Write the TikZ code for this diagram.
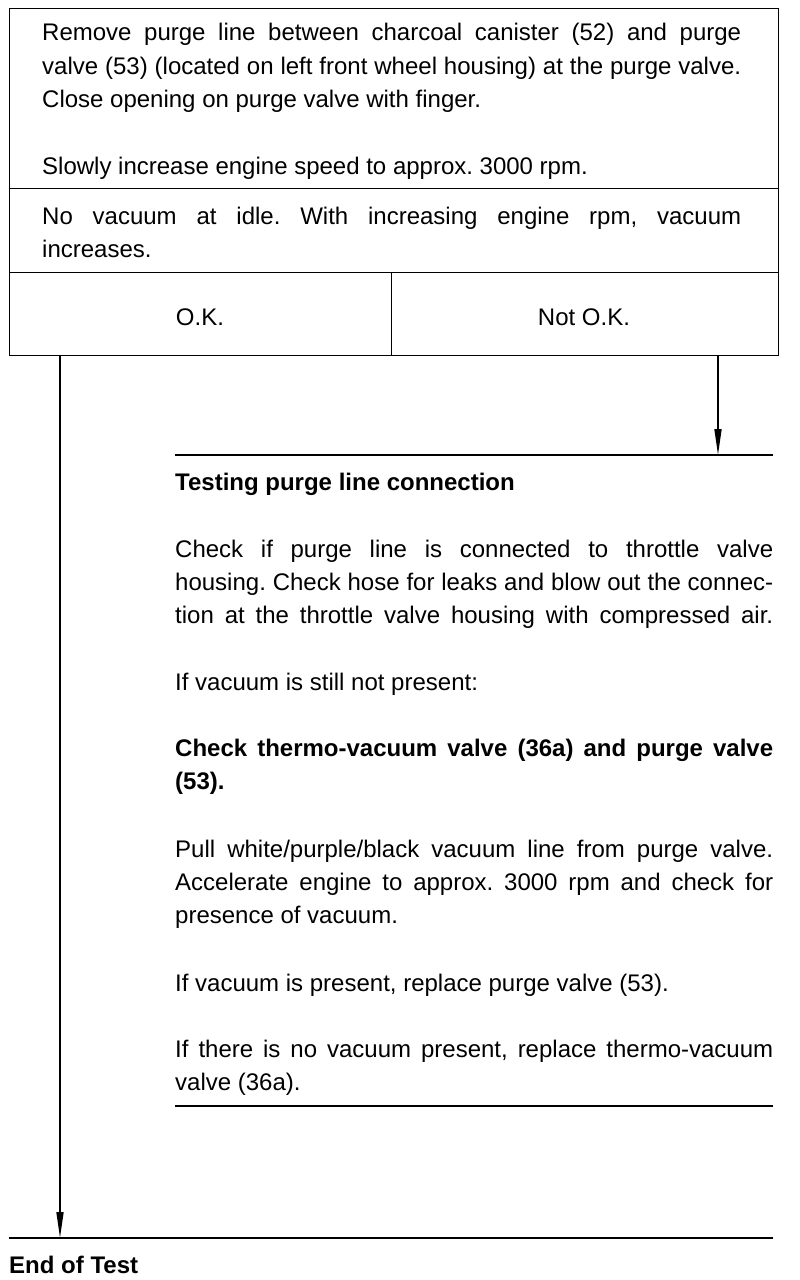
\documentclass[tikz,border=0pt]{standalone}
\usepackage{fontspec}
\setmainfont{Liberation Sans}
\usetikzlibrary{arrows.meta}
\newcommand{\jline}[2]{\makebox[#1][s]{#2}}
\frenchspacing
\begin{document}
\begin{tikzpicture}[x=1pt,y=-1pt,
  box/.style={draw,line width=1.3pt,inner sep=0pt,anchor=north west},
  txt/.style={anchor=base west,inner sep=0pt,font=\fontsize{24}{33}\selectfont\frenchspacing},
  btxt/.style={anchor=base west,inner sep=0pt,font=\fontsize{24}{33}\selectfont\bfseries\frenchspacing},
  hrule/.style={line width=2pt},
  arr/.style={line width=1.6pt,-{Triangle[length=26pt,width=7pt]}}]
\useasboundingbox[fill=white] (0,0) rectangle (800,1280);
% boxes
\node[box,minimum width=769pt,minimum height=180pt] (stepbox) at (9,8) {};
\node[box,minimum width=769pt,minimum height=84pt] (resbox) at (9,188) {};
\node[box,minimum width=382pt,minimum height=83pt] (okbox) at (9,272) {};
\node[box,minimum width=387pt,minimum height=83pt] (nokbox) at (391,272) {};
% top box text
\node[txt] (s1) at (42,40) {\jline{699pt}{Remove purge line between charcoal canister (52) and purge}};
\node[txt] (s2) at (42,74) {\jline{699pt}{valve (53) (located on left front wheel housing) at the purge valve.}};
\node[txt] (s3) at (42,107) {Close opening on purge valve with finger.};
\node[txt] (s4) at (42,174) {Slowly increase engine speed to approx. 3000 rpm.};
\node[txt] (r1) at (42,224) {\jline{699pt}{No vacuum at idle. With increasing engine rpm, vacuum}};
\node[txt] (r2) at (42,257) {increases.};
\node[txt,anchor=base] (ok) at (200,325) {O.K.};
\node[txt,anchor=base] (nok) at (584,325) {Not O.K.};
% connectors
\coordinate (endtop) at (60,1238);
\coordinate (testtop) at (718,455);
\draw[arr] (okbox.south -| endtop) -- (endtop);
\draw[arr] (nokbox.south -| testtop) -- (testtop);
% rules
\coordinate (ra) at (175,455); \coordinate (rb) at (773,455);
\coordinate (rc) at (175,1106); \coordinate (rd) at (773,1106);
\coordinate (re) at (9,1238); \coordinate (rf) at (773,1238);
\draw[hrule] (ra) -- (rb);
\draw[hrule] (rc) -- (rd);
\draw[hrule] (re) -- (rf);
% right column text
\node[btxt] (t0) at (175,490) {Testing purge line connection};
\node[txt] (t1) at (175,557) {\jline{598pt}{Check if purge line is connected to throttle valve}};
\node[txt] (t2) at (175,590) {\jline{598pt}{housing. Check hose for leaks and blow out the connec-}};
\node[txt] (t3) at (175,623) {\jline{598pt}{tion at the throttle valve housing with compressed air.}};
\node[txt] (t4) at (175,690) {If vacuum is still not present:};
\node[btxt] (t5) at (175,756) {\jline{598pt}{Check thermo-vacuum valve (36a) and purge valve}};
\node[btxt] (t6) at (175,789) {(53).};
\node[txt] (t7) at (175,857) {\jline{598pt}{Pull white/purple/black vacuum line from purge valve.}};
\node[txt] (t8) at (175,890) {\jline{598pt}{Accelerate engine to approx. 3000 rpm and check for}};
\node[txt] (t9) at (175,923) {presence of vacuum.};
\node[txt] (t10) at (175,991) {If vacuum is present, replace purge valve (53).};
\node[txt] (t11) at (175,1057) {\jline{598pt}{If there is no vacuum present, replace thermo-vacuum}};
\node[txt] (t12) at (175,1090) {valve (36a).};
\node[btxt] (end) at (9,1273) {End of Test};
\end{tikzpicture}
\end{document}
